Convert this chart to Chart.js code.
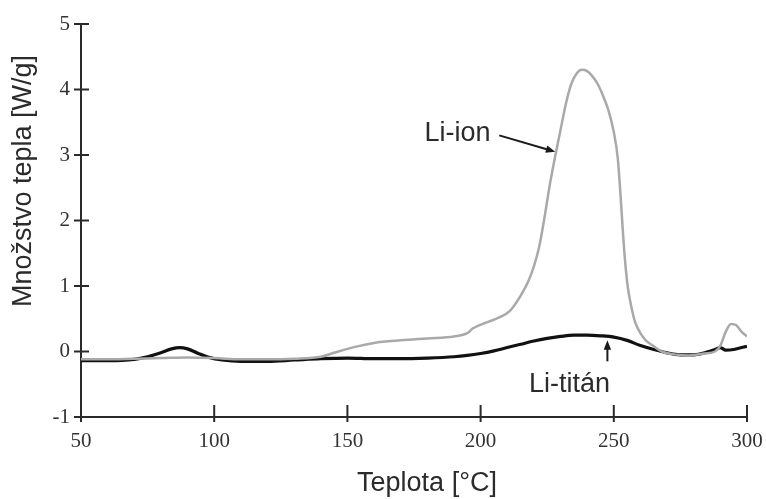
<!DOCTYPE html>
<html>
<head>
<meta charset="utf-8">
<script src="https://cdn.jsdelivr.net/npm/chart.js@4"></script>
<style>
  html, body { margin: 0; padding: 0; background: #ffffff; }
  #wrap { width: 766px; height: 499px; }
</style>
</head>
<body>
<div id="wrap"><canvas id="dscChart" width="766" height="499"></canvas></div>
<script>
// Dáta odčítané z grafu
const liIonTemp = [50, 60, 70, 80, 90, 100, 110, 120, 130, 140, 145, 150, 155, 160, 170, 180, 190, 195, 197, 202, 207, 211, 215, 218, 220, 222, 224, 226, 228, 230, 232, 234, 236, 238, 240, 242, 244, 246, 248, 250, 251.5, 252.5, 253.3, 254.2, 255.2, 256.5, 258, 260, 262, 265, 268, 272, 278, 284, 288, 290, 292, 294, 296, 298, 300];
const liIonHeat = [-0.12, -0.12, -0.11, -0.1, -0.09, -0.1, -0.12, -0.12, -0.11, -0.08, -0.02, 0.04, 0.09, 0.13, 0.17, 0.2, 0.23, 0.28, 0.35, 0.44, 0.52, 0.62, 0.85, 1.08, 1.3, 1.6, 2.05, 2.55, 2.98, 3.38, 3.78, 4.08, 4.24, 4.3, 4.28, 4.2, 4.08, 3.9, 3.68, 3.35, 2.95, 2.4, 1.9, 1.4, 1.0, 0.7, 0.45, 0.28, 0.17, 0.08, 0.0, -0.04, -0.06, -0.03, 0.0, 0.09, 0.3, 0.42, 0.4, 0.3, 0.23];

const liTitanTemp = [50, 60, 70, 75, 80, 84, 87, 90, 94, 98, 103, 110, 120, 130, 140, 150, 160, 170, 180, 190, 195, 200, 205, 210, 215, 220, 225, 230, 235, 240, 245, 250, 255, 260, 265, 270, 275, 280, 285, 288, 290, 292, 295, 298, 300];
const liTitanHeat = [-0.14, -0.14, -0.12, -0.08, -0.02, 0.04, 0.06, 0.04, -0.03, -0.09, -0.13, -0.15, -0.15, -0.13, -0.11, -0.1, -0.11, -0.11, -0.1, -0.08, -0.06, -0.03, 0.01, 0.06, 0.11, 0.16, 0.2, 0.23, 0.25, 0.25, 0.24, 0.22, 0.17, 0.09, 0.03, -0.02, -0.05, -0.05, -0.01, 0.03, 0.06, 0.02, 0.03, 0.06, 0.08];

const xTitle = 'Teplota [°C]';
const yTitle = 'Množstvo tepla [W/g]';

const toPoints = (xs, ys) => xs.map((x, i) => ({ x: x, y: ys[i] }));

// Popisy, kreslené vlastným pluginom
const textPlugin = {
    id: 'textPlugin',
    afterDraw(chart) {
        const ctx = chart.ctx;
        const xs = chart.scales.x;
        const ys = chart.scales.y;
        const area = chart.chartArea;
        ctx.save();

        // ryšky cez osi
        ctx.strokeStyle = '#2a2a2a';
        ctx.lineWidth = 2;
        xs.ticks.forEach(t => {
            const px = xs.getPixelForValue(t.value);
            ctx.beginPath();
            ctx.moveTo(px, area.bottom - 12);
            ctx.lineTo(px, area.bottom + 5);
            ctx.stroke();
        });
        ys.ticks.forEach(t => {
            const py = ys.getPixelForValue(t.value);
            ctx.beginPath();
            ctx.moveTo(area.left - 7, py);
            ctx.lineTo(area.left + 8, py);
            ctx.stroke();
        });

        // názvy osí
        ctx.fillStyle = '#2b2b2b';
        ctx.font = '27px "Liberation Sans", Arial, sans-serif';
        ctx.textAlign = 'center';
        ctx.textBaseline = 'middle';
        ctx.fillText(xTitle, 427, 484);
        ctx.save();
        ctx.translate(24, 181);
        ctx.rotate(-Math.PI / 2);
        ctx.fillText(yTitle, 0, 0);
        ctx.restore();

        // označenia kriviek
        ctx.textBaseline = 'alphabetic';
        ctx.fillText('Li-ion', xs.getPixelForValue(191.3), ys.getPixelForValue(3.22));
        ctx.fillText('Li-titán', xs.getPixelForValue(233.4), ys.getPixelForValue(-0.62));

        drawArrow(ctx, xs.getPixelForValue(207), ys.getPixelForValue(3.3),
                       xs.getPixelForValue(228), ys.getPixelForValue(3.05));
        drawArrow(ctx, xs.getPixelForValue(247.6), ys.getPixelForValue(-0.15),
                       xs.getPixelForValue(247.6), ys.getPixelForValue(0.17));
        ctx.restore();
    }
};

function drawArrow(ctx, x1, y1, x2, y2) {
    const ang = Math.atan2(y2 - y1, x2 - x1);
    const head = 10;
    ctx.strokeStyle = '#1a1a1a';
    ctx.fillStyle = '#1a1a1a';
    ctx.lineWidth = 2;
    ctx.beginPath();
    ctx.moveTo(x1, y1);
    ctx.lineTo(x2 - Math.cos(ang) * head * 0.8, y2 - Math.sin(ang) * head * 0.8);
    ctx.stroke();
    ctx.beginPath();
    ctx.moveTo(x2, y2);
    ctx.lineTo(x2 - head * Math.cos(ang - 0.38), y2 - head * Math.sin(ang - 0.38));
    ctx.lineTo(x2 - head * Math.cos(ang + 0.38), y2 - head * Math.sin(ang + 0.38));
    ctx.closePath();
    ctx.fill();
}

const ctx = document.getElementById('dscChart').getContext('2d');
new Chart(ctx, {
    type: 'line',
    data: {
        datasets: [
            {
                label: 'Li-ion',
                data: toPoints(liIonTemp, liIonHeat),
                borderColor: '#a9a9a9',
                borderWidth: 2.5,
                pointRadius: 0,
                cubicInterpolationMode: 'monotone',
                fill: false
            },
            {
                label: 'Li-titán',
                data: toPoints(liTitanTemp, liTitanHeat),
                borderColor: '#111111',
                borderWidth: 3.2,
                pointRadius: 0,
                cubicInterpolationMode: 'monotone',
                fill: false
            }
        ]
    },
    options: {
        responsive: false,
        animation: false,
        layout: { padding: { left: 0, right: 0, top: 24, bottom: 0 } },
        plugins: {
            legend: { display: false },
            tooltip: { enabled: false }
        },
        scales: {
            x: {
                type: 'linear',
                min: 50,
                max: 300,
                afterFit: s => { s.height = 82; s.paddingLeft = 0; s.paddingRight = 19; },
                grid: { display: false, drawTicks: false },
                border: { display: true, color: '#2a2a2a', width: 2 },
                ticks: {
                    stepSize: 50,
                    padding: 12,
                    color: '#333333',
                    font: { family: 'Liberation Serif', size: 21 }
                }
            },
            y: {
                min: -1,
                max: 5,
                afterFit: s => { s.width = 81; },
                grid: { display: false, drawTicks: false },
                border: { display: true, color: '#2a2a2a', width: 2 },
                ticks: {
                    stepSize: 1,
                    padding: 11,
                    color: '#333333',
                    font: { family: 'Liberation Serif', size: 21 }
                }
            }
        }
    },
    plugins: [textPlugin]
});
</script>
</body>
</html>
